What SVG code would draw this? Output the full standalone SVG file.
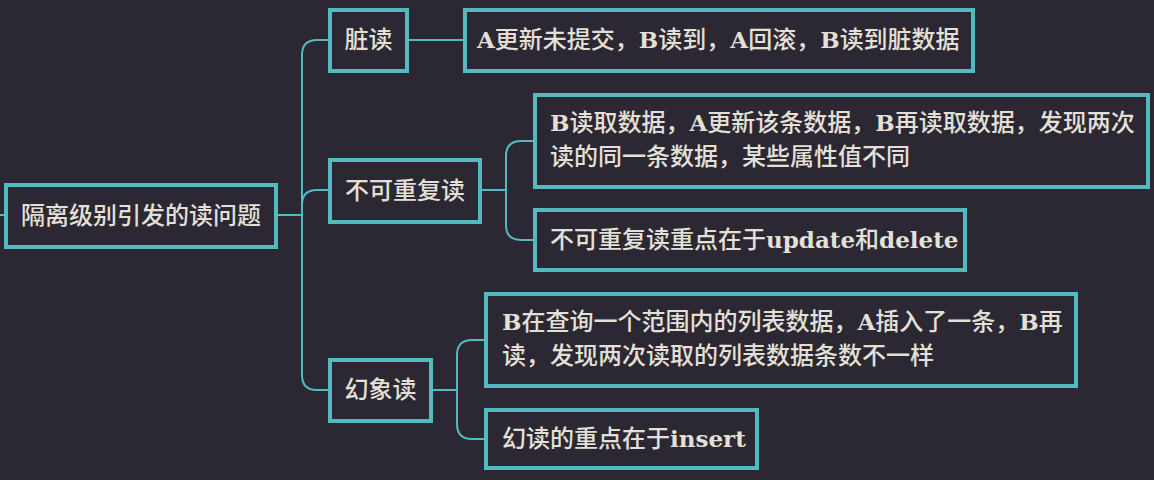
<svg xmlns="http://www.w3.org/2000/svg" width="1154" height="480" viewBox="0 0 1154 480">
<style>
.bg{fill:#2b2733}
.box{fill:#2b2733;stroke:#53bac0;stroke-width:4}
.conn{fill:none;stroke:#53bac0;stroke-width:2}
.t{font-family:"Noto Sans CJK SC","DejaVu Sans",sans-serif;font-size:24px;font-weight:500;fill:#e3e0d7}
.l{font-family:"DejaVu Serif","Liberation Serif",serif;font-weight:bold;font-size:23px}
.c{text-anchor:middle}
</style>
<rect class="bg" x="0" y="0" width="1154" height="480"/>
<g id="connectors">
<path class="conn" d="M0,215 H6"/>
<path class="conn" d="M278,215 H302"/>
<path class="conn" d="M328,40 H317 Q302,40 302,55 V375 Q302,390 317,390 H328"/>
<path class="conn" d="M302,205 Q302,190 317,190 H328"/>
<path class="conn" d="M409,40 H463"/>
<path class="conn" d="M482,190 H506"/>
<path class="conn" d="M533,141 H521 Q506,141 506,156 V225 Q506,240 521,240 H533"/>
<path class="conn" d="M433,390 H457"/>
<path class="conn" d="M484,340 H472 Q457,340 457,355 V424 Q457,439 472,439 H484"/>
</g>
<g id="root">
<rect class="box" x="6" y="185" width="270" height="62"/>
<text class="t c" x="141" y="224">隔离级别引发的读问题</text>
</g>
<g id="dirty">
<rect class="box" x="330" y="10" width="77" height="61"/>
<text class="t c" x="368.5" y="48">脏读</text>
</g>
<g id="dirty-desc">
<rect class="box" x="465" y="10" width="508" height="61"/>
<text class="t" x="477" y="48"><tspan class="l">A</tspan>更新未提交，<tspan class="l">B</tspan>读到，<tspan class="l">A</tspan>回滚，<tspan class="l">B</tspan>读到脏数据</text>
</g>
<g id="nonrepeat">
<rect class="box" x="330" y="160" width="150" height="62"/>
<text class="t c" x="405" y="199">不可重复读</text>
</g>
<g id="nonrepeat-desc">
<rect class="box" x="535" y="95" width="613" height="92"/>
<text class="t" x="550" y="131"><tspan class="l">B</tspan>读取数据，<tspan class="l">A</tspan>更新该条数据，<tspan class="l">B</tspan>再读取数据，发现两次</text>
<text class="t" x="550" y="165">读的同一条数据，某些属性值不同</text>
</g>
<g id="nonrepeat-key">
<rect class="box" x="535" y="210" width="430" height="60"/>
<text class="t" x="550" y="248">不可重复读重点在于<tspan class="l">update</tspan>和<tspan class="l">delete</tspan></text>
</g>
<g id="phantom">
<rect class="box" x="330" y="360" width="101" height="61"/>
<text class="t c" x="380.5" y="398">幻象读</text>
</g>
<g id="phantom-desc">
<rect class="box" x="486" y="294" width="590" height="92"/>
<text class="t" x="502" y="330"><tspan class="l">B</tspan>在查询一个范围内的列表数据，<tspan class="l">A</tspan>插入了一条，<tspan class="l">B</tspan>再</text>
<text class="t" x="502" y="364">读，发现两次读取的列表数据条数不一样</text>
</g>
<g id="phantom-key">
<rect class="box" x="486" y="410" width="271" height="58"/>
<text class="t" x="502" y="447">幻读的重点在于<tspan class="l">insert</tspan></text>
</g>
</svg>
